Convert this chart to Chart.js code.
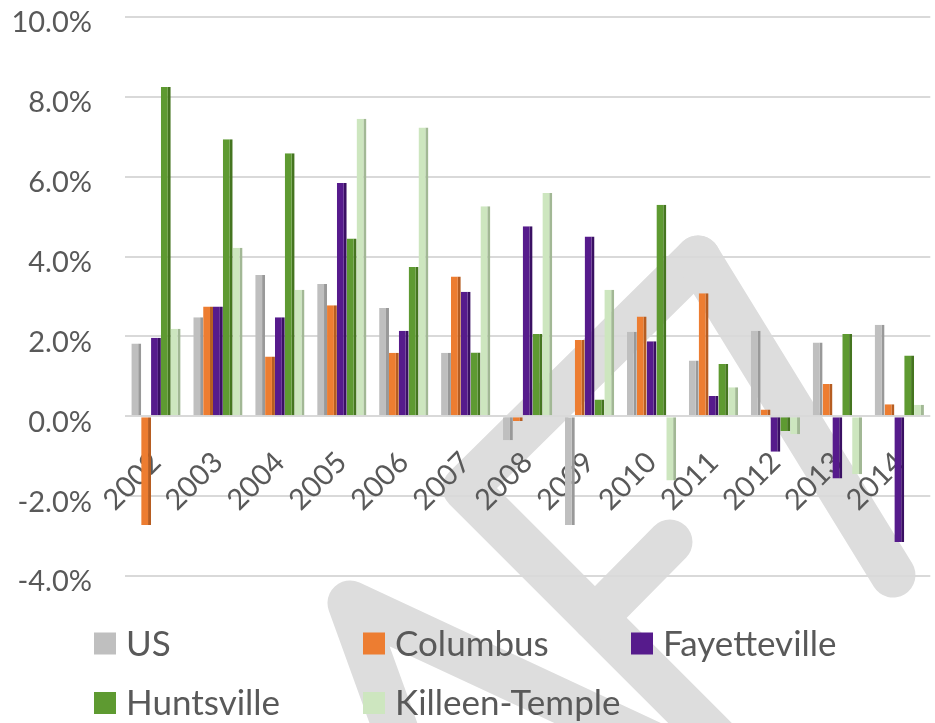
<!DOCTYPE html>
<html><head><meta charset="utf-8">
<script src="https://cdn.jsdelivr.net/npm/chart.js@4.4.1/dist/chart.umd.min.js"></script>
<style>html,body{margin:0;padding:0;background:#fff;overflow:hidden;}#wrap{position:relative;width:945px;height:723px;}</style>
</head><body><div id="wrap"><canvas id="c" width="945" height="723"></canvas></div>
<script>
const years = ['2002','2003','2004','2005','2006','2007','2008','2009','2010','2011','2012','2013','2014'];
const usGrowth = [1.82, 2.48, 3.54, 3.31, 2.71, 1.59, -0.60, -2.72, 2.12, 1.40, 2.14, 1.85, 2.29];
const columbusGrowth = [-2.72, 2.75, 1.50, 2.78, 1.59, 3.50, -0.12, 1.91, 2.50, 3.08, 0.17, 0.81, 0.30];
const fayettevilleGrowth = [1.97, 2.75, 2.48, 5.84, 2.14, 3.12, 4.76, 4.50, 1.88, 0.51, -0.89, -1.56, -3.15];
const huntsvilleGrowth = [8.25, 6.94, 6.59, 4.45, 3.74, 1.60, 2.06, 0.42, 5.30, 1.31, -0.37, 2.06, 1.52];
const killeenGrowth = [2.19, 4.22, 3.17, 7.45, 7.23, 5.26, 5.59, 3.17, -1.61, 0.73, -0.45, -1.45, 0.29];
const seriesNames = ['US', 'Columbus', 'Fayetteville', 'Huntsville', 'Killeen-Temple'];
const yMin = -4, yMax = 10, yStep = 2;

const seriesData = [usGrowth, columbusGrowth, fayettevilleGrowth, huntsvilleGrowth, killeenGrowth];
const faceColors = ['#bfbfbf', '#ed7d31', '#561b8c', '#5e9a31', '#cde6bf'];
const sideColors = ['#999999', '#b65d21', '#3a1063', '#457520', '#a2b895'];

const watermark = {
  id: 'wm',
  beforeDraw(chart) {
    const ctx = chart.ctx;
    ctx.save();
    ctx.strokeStyle = '#dddddd';
    ctx.lineWidth = 45;
    ctx.lineCap = 'round';
    ctx.lineJoin = 'round';
    const strokes = [
      [[698, 258], [465, 488], [765, 788]],
      [[595, 618], [670, 542]],
      [[698, 258], [893, 575]],
      [[414, 780], [350, 603], [730, 780]]
    ];
    strokes.forEach(s => {
      ctx.beginPath();
      ctx.moveTo(s[0][0], s[0][1]);
      for (let i = 1; i < s.length; i++) ctx.lineTo(s[i][0], s[i][1]);
      ctx.stroke();
    });
    ctx.restore();
  }
};

const gridLegend = {
  id: 'gridLegend',
  afterDraw(chart) {
    const ctx = chart.ctx;
    const colX = [94, 363, 631];
    const rowY = [643.5, 703];
    ctx.save();
    ctx.font = '35px Lato';
    ctx.textBaseline = 'middle';
    ctx.textAlign = 'left';
    chart.data.datasets.forEach((ds, i) => {
      const x = colX[i % 3], y = rowY[Math.floor(i / 3)];
      ctx.fillStyle = ds.backgroundColor;
      ctx.fillRect(x, y - 11, 22, 22);
      ctx.fillStyle = '#595959';
      ctx.fillText(ds.label, x + 32, y + 1);
    });
    ctx.restore();
  }
};

function build() {
  new Chart(document.getElementById('c'), {
    type: 'bar',
    data: {
      labels: years,
      datasets: seriesNames.map((n, i) => ({
        label: n,
        data: seriesData[i],
        backgroundColor: faceColors[i],
        borderColor: sideColors[i],
        borderWidth: {top: 0, right: 3, bottom: 0, left: 0},
        borderSkipped: false,
        categoryPercentage: 0.795,
        barPercentage: 1.0
      }))
    },
    options: {
      responsive: false,
      devicePixelRatio: 1,
      animation: false,
      layout: {padding: {top: 17, bottom: 147, left: 0, right: 2}},
      plugins: {legend: {display: false}, tooltip: {enabled: false}},
      scales: {
        x: {
          position: {y: 0},
          grid: {display: false},
          border: {display: false},
          ticks: {
            autoSkip: false, minRotation: 45, maxRotation: 45,
            font: {family: 'Lato', size: 29}, color: '#595959', padding: 21
          },
          afterFit(s) { s.paddingTop = 0; s.paddingBottom = 0; }
        },
        y: {
          min: yMin, max: yMax,
          border: {display: false},
          grid: {color: '#d9d9d9', lineWidth: 2, drawTicks: false},
          ticks: {
            stepSize: yStep,
            callback: v => v.toFixed(1) + '%',
            font: {family: 'Lato', size: 29}, color: '#595959',
            padding: 33, labelOffset: 6
          },
          afterFit(s) { s.width = 125; s.paddingTop = 0; s.paddingBottom = 0; }
        }
      }
    },
    plugins: [watermark, gridLegend]
  });
}
if (document.fonts && document.fonts.load) {
  Promise.all([document.fonts.load('24px Lato'), document.fonts.load('35px Lato')]).then(build, build);
} else build();
</script>
</body></html>
